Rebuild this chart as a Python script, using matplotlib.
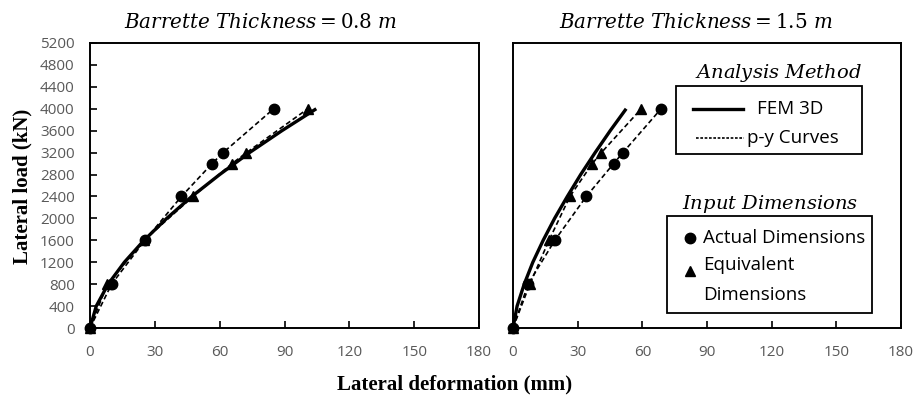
import matplotlib
matplotlib.use("Agg")
import matplotlib.pyplot as plt
from matplotlib.lines import Line2D
from matplotlib.patches import Rectangle

plt.rcParams['mathtext.fontset'] = 'dejavuserif'
plt.rcParams['font.family'] = ['Open Sans', 'DejaVu Sans']

# ---------------- data ----------------
loads = [0, 800, 1600, 2400, 3000, 3200, 4000]

# Barrette thickness 0.8 m
fem_08_x = [0, 2.9, 8.4, 15.9, 25.0, 35.5, 47.1, 60.0, 73.8, 88.8, 104.7]
fem_08_y = [0, 400, 800, 1200, 1600, 2000, 2400, 2800, 3200, 3600, 4000]
py_act_08 = [0, 10, 25.4, 42.3, 56.5, 61.6, 85]
py_eqv_08 = [0, 8, 25, 47.7, 65.7, 72.4, 100.8]

# Barrette thickness 1.5 m
fem_15_x = [0, 1.9, 5.2, 9.2, 14.0, 19.3, 25.2, 31.4, 38.1, 45.1, 52.5]
fem_15_y = [0, 400, 800, 1200, 1600, 2000, 2400, 2800, 3200, 3600, 4000]
py_act_15 = [0, 7, 19.4, 34, 46.7, 51, 68.7]
py_eqv_15 = [0, 7.8, 16.7, 26.4, 36.8, 41, 59.5]

x_ticks = [0, 30, 60, 90, 120, 150, 180]
y_ticks = list(range(0, 5201, 400))

titles = [r'$Barrette\ Thickness = 0.8\ m$', r'$Barrette\ Thickness = 1.5\ m$']

fig = plt.figure(figsize=(9.17, 3.96), dpi=100)
axL = fig.add_axes([90/917, 1-328/396, 389/917, 285/396])
axR = fig.add_axes([513/917, 1-328/396, 388/917, 285/396])

GRAY = '#595959'
dash = (0, (3, 1.8))

def style(ax, show_y):
    ax.set_xlim(0, 180)
    ax.set_ylim(0, 5200)
    ax.set_xticks(x_ticks)
    ax.set_yticks(y_ticks)
    for s in ax.spines.values():
        s.set_linewidth(1.4)
        s.set_color('black')
    ax.tick_params(direction='in', length=5, width=1.2, colors='black',
                   labelcolor=GRAY, labelsize=11)
    ax.tick_params(axis='x', pad=12)
    ax.tick_params(axis='y', pad=11)
    if not show_y:
        ax.tick_params(axis='y', left=False, labelleft=False)

for ax, fx, fy, pa, pe, t, tx in [
        (axL, fem_08_x, fem_08_y, py_act_08, py_eqv_08, titles[0], 0.437),
        (axR, fem_15_x, fem_15_y, py_act_15, py_eqv_15, titles[1], 0.472)]:
    ax.plot(fx, fy, color='black', lw=2.4, solid_capstyle='butt', zorder=3)
    ax.plot(pa, loads, color='black', lw=1.2, linestyle=dash, marker='o',
            markersize=7.5, zorder=4, clip_on=False)
    ax.plot(pe, loads, color='black', lw=1.2, linestyle=dash, marker='^',
            markersize=7.5, zorder=4, clip_on=False)
    style(ax, ax is axL)
    ax.text(tx, 1.07, t, transform=ax.transAxes, ha='center', va='center',
            fontsize=14.3)

# ---------------- legends (right panel) ----------------
T = axR.transAxes
axR.add_patch(Rectangle((0.420, 0.611), 0.479, 0.238, transform=T,
                        fill=True, facecolor='white', edgecolor='black',
                        lw=1.3, zorder=5))
axR.text(0.683, 0.893, r'$Analysis\ Method$', transform=T, ha='center',
         va='center', fontsize=14, zorder=6)
axR.add_line(Line2D([0.464, 0.593], [0.768, 0.768], transform=T,
                    color='black', lw=2.4, zorder=6))
axR.text(0.629, 0.768, 'FEM 3D', transform=T, ha='left', va='center',
         fontsize=13.5, zorder=6)
axR.add_line(Line2D([0.472, 0.596], [0.667, 0.667], transform=T,
                    color='black', lw=1.2, linestyle=(0, (1.6, 1.0)), zorder=6))
axR.text(0.603, 0.667, 'p-y Curves', transform=T, ha='left', va='center',
         fontsize=13.5, zorder=6)

axR.add_patch(Rectangle((0.397, 0.053), 0.528, 0.340, transform=T,
                        fill=True, facecolor='white', edgecolor='black',
                        lw=1.3, zorder=5))
axR.text(0.662, 0.434, r'$Input\ Dimensions$', transform=T, ha='center',
         va='center', fontsize=14, zorder=6)
axR.add_line(Line2D([0.456], [0.316], transform=T, marker='o', markersize=7.5,
                    color='black', linestyle='none', zorder=6))
axR.text(0.490, 0.316, 'Actual Dimensions', transform=T, ha='left',
         va='center', fontsize=13.5, zorder=6)
axR.add_line(Line2D([0.456], [0.200], transform=T, marker='^', markersize=7,
                    color='black', linestyle='none', zorder=6))
axR.text(0.490, 0.221, 'Equivalent', transform=T, ha='left',
         va='center', fontsize=13.5, zorder=6)
axR.text(0.490, 0.116, 'Dimensions', transform=T, ha='left',
         va='center', fontsize=13.5, zorder=6)

# ---------------- axis labels ----------------
fig.text(455/917, 1-384/396, 'Lateral deformation (mm)', ha='center',
         va='center', fontsize=15, fontweight='bold', family='Liberation Serif')
fig.text(22/917, 1-186/396, 'Lateral load (kN)', ha='center', va='center',
         rotation=90, fontsize=15, fontweight='bold', family='Liberation Serif')

fig.savefig('out.png', dpi=100)
